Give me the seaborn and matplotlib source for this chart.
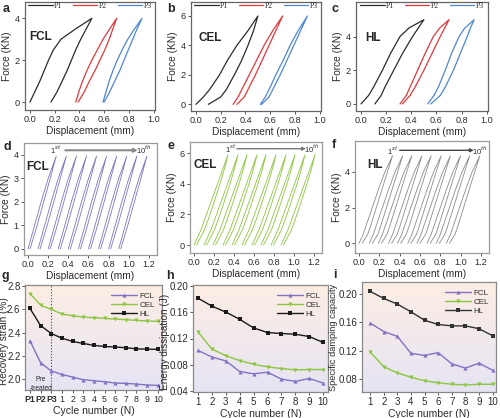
import numpy as np
import matplotlib
matplotlib.use('Agg')
import matplotlib.pyplot as plt
import seaborn as sns
from matplotlib.colors import LinearSegmentedColormap

sns.set_style('ticks')
plt.rcParams['font.family'] = ['Liberation Sans', 'DejaVu Sans']

# ---------------- data ----------------
# row 1: first three loading/unloading loops P1-P3 (displacement at force levels)
f_fcl = [0, 0.5, 1, 1.5, 2, 2.5, 3, 3.5, 4]
fcl_load = {'P1': [0.00, 0.04, 0.08, 0.115, 0.15, 0.19, 0.25, 0.37, 0.50],
            'P2': [0.37, 0.395, 0.425, 0.46, 0.50, 0.545, 0.59, 0.645, 0.70],
            'P3': [0.59, 0.615, 0.64, 0.67, 0.705, 0.745, 0.79, 0.845, 0.905]}
fcl_unload = {'P1': [0.17, 0.22, 0.26, 0.30, 0.335, 0.37, 0.41, 0.455, 0.50],
              'P2': [0.39, 0.44, 0.48, 0.525, 0.565, 0.605, 0.64, 0.67, 0.70],
              'P3': [0.60, 0.645, 0.685, 0.725, 0.76, 0.795, 0.83, 0.865, 0.905]}

f_cel = [0, 0.5, 1, 2, 3, 4, 5, 6]
cel_load = {'P1': [0.00, 0.06, 0.11, 0.19, 0.255, 0.33, 0.42, 0.50],
            'P2': [0.30, 0.34, 0.37, 0.43, 0.49, 0.55, 0.62, 0.70],
            'P3': [0.52, 0.56, 0.59, 0.645, 0.705, 0.76, 0.825, 0.90]}
cel_unload = {'P1': [0.10, 0.20, 0.245, 0.31, 0.37, 0.42, 0.465, 0.50],
              'P2': [0.33, 0.39, 0.42, 0.48, 0.535, 0.59, 0.645, 0.70],
              'P3': [0.53, 0.59, 0.62, 0.68, 0.735, 0.79, 0.845, 0.90]}

f_hl = [0, 0.5, 1, 2, 3, 4, 4.5, 5]
hl_load = {'P1': [0.00, 0.06, 0.10, 0.17, 0.235, 0.31, 0.38, 0.50],
           'P2': [0.31, 0.36, 0.39, 0.45, 0.51, 0.575, 0.625, 0.70],
           'P3': [0.53, 0.58, 0.615, 0.67, 0.72, 0.78, 0.825, 0.90]}
hl_unload = {'P1': [0.11, 0.16, 0.19, 0.26, 0.33, 0.41, 0.455, 0.50],
             'P2': [0.33, 0.39, 0.43, 0.50, 0.565, 0.63, 0.665, 0.70],
             'P3': [0.555, 0.63, 0.67, 0.735, 0.79, 0.845, 0.87, 0.90]}

# row 2: 10 cycles, one loop shape per material + start displacement of each cycle
cyc_f_fcl = [0, 1, 2, 3, 3.95]
cyc_fcl_load = [0.0, 0.065, 0.13, 0.20, 0.28]
cyc_fcl_unload = [0.02, 0.09, 0.155, 0.22, 0.28]
cyc_fcl_start = [0.00, 0.10, 0.20, 0.30, 0.40, 0.50, 0.60, 0.70, 0.80, 0.90]

cyc_f_cel = [0, 1, 2, 3, 4, 5, 5.9]
cyc_cel_load = [0.0, 0.07, 0.125, 0.18, 0.235, 0.29, 0.34]
cyc_cel_unload = [0.025, 0.105, 0.16, 0.21, 0.26, 0.305, 0.34]
cyc_cel_start = [0.00, 0.10, 0.19, 0.29, 0.38, 0.48, 0.58, 0.67, 0.77, 0.87]

cyc_f_hl = [0, 0.5, 1, 2, 3, 4, 4.9]
cyc_hl_load = [0.0, 0.04, 0.07, 0.13, 0.19, 0.255, 0.33]
cyc_hl_unload = [0.03, 0.085, 0.115, 0.17, 0.225, 0.28, 0.33]
cyc_hl_start = [0.00, 0.10, 0.19, 0.29, 0.38, 0.48, 0.57, 0.67, 0.76, 0.86]

# row 3
cats_g = ['P1', 'P2', 'P3', '1', '2', '3', '4', '5', '6', '7', '8', '9', '10']
rec_fcl = [2.33, 2.14, 2.07, 2.04, 2.017, 1.995, 1.986, 1.977, 1.966, 1.963, 1.957, 1.949, 1.946]
rec_cel = [2.736, 2.636, 2.60, 2.56, 2.545, 2.534, 2.528, 2.523, 2.517, 2.511, 2.506, 2.50, 2.497]
rec_hl = [2.608, 2.46, 2.392, 2.352, 2.324, 2.307, 2.29, 2.281, 2.276, 2.27, 2.26, 2.258, 2.256]

cycles = [1, 2, 3, 4, 5, 6, 7, 8, 9, 10]
ene_fcl = [0.102, 0.092, 0.086, 0.070, 0.0665, 0.069, 0.0585, 0.055, 0.0595, 0.0525]
ene_cel = [0.130, 0.104, 0.094, 0.0865, 0.081, 0.077, 0.0745, 0.0725, 0.073, 0.073]
ene_hl = [0.181, 0.169, 0.160, 0.149, 0.136, 0.129, 0.1275, 0.1265, 0.123, 0.114]

sdc_fcl = [0.159, 0.147, 0.140, 0.116, 0.113, 0.117, 0.101, 0.095, 0.102, 0.092]
sdc_cel = [0.118, 0.097, 0.088, 0.082, 0.077, 0.074, 0.072, 0.071, 0.072, 0.072]
sdc_hl = [0.204, 0.194, 0.186, 0.175, 0.163, 0.157, 0.155, 0.155, 0.151, 0.141]

# ---------------- styling ----------------
pcol = {'P1': '#2b2b2b', 'P2': '#e0393b', 'P3': '#4f86d6'}
c_fcl, c_cel, c_hl = '#8272c4', '#8cc63e', '#1a1a1a'
W, H = 500, 418
fig = plt.figure(figsize=(W / 100, H / 100), dpi=100)
TXT = '#2a2a2a'


def make_ax(l, r, t, b, edge='#777777', ts=6.6):
    ax = fig.add_axes([l / W, 1 - b / H, (r - l) / W, (b - t) / H])
    for s in ax.spines.values():
        s.set_color(edge)
        s.set_linewidth(0.9)
    ax.tick_params(labelsize=ts, length=2.2, width=0.7, color='#555555', pad=1.5,
                   labelcolor=TXT)
    return ax


def loop(ax, f, load, unload, color, lw=0.9):
    xs = list(load) + list(unload)[::-1]
    ys = list(f) + list(f)[::-1]
    sns.lineplot(x=xs, y=ys, sort=False, estimator=None, color=color, lw=lw, ax=ax)


def gradient(ax):
    cm = LinearSegmentedColormap.from_list('bg', ['#e6e4f4', '#fdeee4'])
    ax.imshow(np.linspace(0, 1, 256).reshape(-1, 1), cmap=cm, origin='lower',
              extent=[0, 1, 0, 1], transform=ax.transAxes, aspect='auto', zorder=0)


# ---------- row 1 ----------
row1 = [((25, 155, 2, 110), f_fcl, fcl_load, fcl_unload, 'FCL', (-0.38, 4.78), [0, 2, 4], (0.03, 0.68)),
        ((191, 321, 2, 111), f_cel, cel_load, cel_unload, 'CEL', (-0.45, 6.95), [0, 2, 4, 6], (0.06, 0.67)),
        ((356, 488, 2, 111), f_hl, hl_load, hl_unload, 'HL', (-0.42, 6.05), [0, 2, 4], (0.07, 0.67))]
for pos, f, ld, ul, name, ylim, yt, tpos in row1:
    ax = make_ax(*pos, edge='#666666')
    for k in ['P1', 'P2', 'P3']:
        loop(ax, f, ld[k], ul[k], pcol[k])
        ax.lines[-1].set_label(k)
    ax.set_xlim(-0.04, 1.01)
    ax.set_ylim(*ylim)
    ax.set_xticks([0, 0.2, 0.4, 0.6, 0.8, 1.0])
    ax.set_xticklabels(['0.0', '0.2', '0.4', '0.6', '0.8', '1.0'])
    ax.set_yticks(yt)
    ax.set_xlabel('Displacement (mm)', fontsize=7.3, labelpad=1.5, color=TXT)
    ax.set_ylabel('Force (KN)', fontsize=7.3, labelpad=2, color=TXT)
    ax.text(*tpos, name, transform=ax.transAxes, fontsize=8.5, fontweight='bold', va='center')
    ax.legend(loc='upper center', bbox_to_anchor=(0.5, 1.03), ncol=3, frameon=False,
              prop={'family': 'Liberation Serif', 'size': 5.5}, handlelength=3.2,
              columnspacing=1.4, handletextpad=0.2, borderaxespad=0)

# ---------- row 2 ----------
row2 = [((24, 157, 143, 255), cyc_f_fcl, cyc_fcl_load, cyc_fcl_unload, cyc_fcl_start, c_fcl,
         'FCL', (-0.26, 4.51), [0, 1, 2, 3, 4], (0.02, 0.79), 4.2, (0.27, 0.37, 1.09, 1.15), '#8a8a8a'),
        ((190, 322, 142, 253), cyc_f_cel, cyc_cel_load, cyc_cel_unload, cyc_cel_start, c_cel,
         'CEL', (-0.52, 6.74), [0, 2, 4, 6], (0.03, 0.79), 6.3, (0.37, 0.43, 1.12, 1.18), '#777777'),
        ((355, 489, 141, 253), cyc_f_hl, cyc_hl_load, cyc_hl_unload, cyc_hl_start, '#8c8c8c',
         'HL', (-0.54, 5.72), [0, 2, 4], (0.09, 0.79), 5.2, (0.33, 0.40, 1.13, 1.19), '#444444')]
for pos, f, ld, ul, starts, col, name, ylim, yt, tpos, ya, xa, acol in row2:
    ax = make_ax(*pos, edge='#9a9a9a')
    for s0 in starts:
        loop(ax, f, [s0 + d for d in ld], [s0 + d for d in ul], col, lw=0.6)
    ax.set_xlim(-0.04, 1.28)
    ax.set_ylim(*ylim)
    ax.set_xticks([0, 0.2, 0.4, 0.6, 0.8, 1.0, 1.2])
    ax.set_xticklabels(['0.0', '0.2', '0.4', '0.6', '0.8', '1.0', '1.2'])
    ax.set_yticks(yt)
    ax.set_xlabel('Displacement (mm)', fontsize=7.3, labelpad=1.5, color=TXT)
    ax.set_ylabel('Force (KN)', fontsize=7.3, labelpad=2, color=TXT)
    ax.text(*tpos, name, transform=ax.transAxes, fontsize=8.5, fontweight='bold', va='center')
    ax.text(xa[0], ya, r'1$^{st}$', fontsize=5.5, ha='center', va='center', color=TXT)
    ax.text(xa[3], ya, r'10$^{th}$', fontsize=5.5, ha='center', va='center', color=TXT)
    ax.annotate('', xy=(xa[2], ya), xytext=(xa[1], ya),
                arrowprops=dict(arrowstyle='-|>', color=acol, lw=1.5 if name == 'FCL' else 1.0,
                                mutation_scale=5, shrinkA=0, shrinkB=0))

# ---------- row 3 ----------
mk = dict(markersize=3, markeredgewidth=0)
LS = 7.5
ax = make_ax(25, 162, 285, 390, edge='#888888', ts=7)
gradient(ax)
xg = np.arange(len(cats_g))
sns.lineplot(x=xg, y=rec_fcl, color=c_fcl, marker='^', label='FCL', lw=1, ax=ax, **mk)
sns.lineplot(x=xg, y=rec_cel, color=c_cel, marker='v', label='CEL', lw=1, ax=ax, **mk)
sns.lineplot(x=xg, y=rec_hl, color=c_hl, marker='s', label='HL', lw=1, ax=ax, **mk)
ax.axvline(2, color='#444444', lw=0.8, ls=':', zorder=1)
ax.text(1.0, 1.96, 'Pre\n-treated', fontsize=4.8, ha='center', va='center', color=TXT,
        linespacing=1.4)
ax.set_xlim(-0.47, 12.4)
ax.set_ylim(1.906, 2.81)
ax.set_xticks(xg)
ax.set_xticklabels(cats_g)
ax.tick_params(axis='x', labelsize=6.3, pad=1.5)
for t in ax.get_xticklabels()[:3]:
    t.set_fontweight('bold')
ax.set_yticks([2.0, 2.2, 2.4, 2.6, 2.8])
ax.tick_params(axis='y', pad=1)
ax.set_ylabel('Recovery strain (%)', fontsize=7.2, color=TXT)
ax.yaxis.set_label_coords(-0.12, 0.47)
ax.set_xlabel('Cycle number (N)', fontsize=LS, labelpad=1, color=TXT)

ax2 = make_ax(193, 328, 285, 392, edge='#888888', ts=7)
gradient(ax2)
sns.lineplot(x=cycles, y=ene_fcl, color=c_fcl, marker='^', label='FCL', lw=1, ax=ax2, **mk)
sns.lineplot(x=cycles, y=ene_cel, color=c_cel, marker='v', label='CEL', lw=1, ax=ax2, **mk)
sns.lineplot(x=cycles, y=ene_hl, color=c_hl, marker='s', label='HL', lw=1, ax=ax2, **mk)
ax2.set_xlim(0.64, 10.35)
ax2.set_ylim(0.039, 0.201)
ax2.set_yticks([0.04, 0.08, 0.12, 0.16, 0.20])
ax2.tick_params(axis='y', pad=1)
ax2.set_ylabel('Energy dissipation (J)', fontsize=7.2, color=TXT)
ax2.yaxis.set_label_coords(-0.17, 0.47)

ax3 = make_ax(362, 496, 282, 392, edge='#888888', ts=7)
gradient(ax3)
sns.lineplot(x=cycles, y=sdc_fcl, color=c_fcl, marker='^', label='FCL', lw=1, ax=ax3, **mk)
sns.lineplot(x=cycles, y=sdc_cel, color=c_cel, marker='v', label='CEL', lw=1, ax=ax3, **mk)
sns.lineplot(x=cycles, y=sdc_hl, color='#333333', marker='s', label='HL', lw=1, ax=ax3, **mk)
ax3.set_xlim(0.4, 10.25)
ax3.set_ylim(0.061, 0.2174)
ax3.set_yticks([0.08, 0.12, 0.16, 0.20])
ax3.tick_params(axis='y', pad=1)
ax3.set_ylabel('Specific damping capacity', fontsize=6.7, color=TXT)
ax3.yaxis.set_label_coords(-0.18, 0.5)

for a in (ax2, ax3):
    a.set_xticks(cycles)
    a.set_xlabel('Cycle number (N)', fontsize=LS, labelpad=1, color=TXT)
for a in (ax, ax2, ax3):
    a.legend(loc='upper right', frameon=False, fontsize=5.8, handlelength=3.2,
             handletextpad=0.3, labelspacing=0.15, borderaxespad=0.5,
             labelcolor=TXT)

# panel letters
for lab, x, y in [('a', 3, 3), ('b', 167, 3), ('c', 332, 3), ('d', 3, 141), ('e', 167, 140),
                  ('f', 332, 139), ('g', 2, 270), ('h', 166, 270), ('i', 333, 269)]:
    fig.text(x / W, 1 - y / H, lab, fontsize=9, fontweight='bold', va='top')

fig.savefig('out.png', dpi=100)
